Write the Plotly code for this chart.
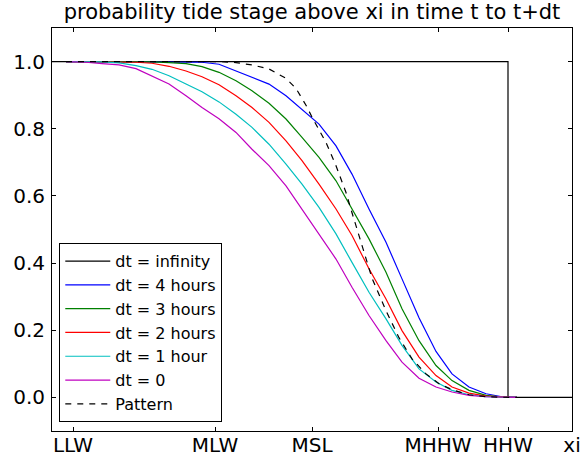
import plotly.graph_objects as go

# Tide datum levels (m relative to mean sea level)
datum_names = ["LLW", "MLW", "MSL", "MHHW", "HHW"]
datum_levels = [-2.39, -0.97, 0.0, 1.26, 1.96]
x_min, x_max = -2.6, 2.6

# Common xi grid for the dt curves
xi = [-2.46, -2.26, -2.10, -1.93, -1.76, -1.60, -1.43, -1.26, -1.10, -0.93,
      -0.76, -0.60, -0.43, -0.26, -0.10, 0.07, 0.24, 0.40, 0.57, 0.74,
      0.90, 1.07, 1.24, 1.40, 1.57, 1.74, 1.90, 2.05]

p_4h = [1.0, 1.0, 1.0, 1.0, 1.0, 1.0, 1.0, 1.0, 0.998, 0.992,
        0.972, 0.955, 0.933, 0.898, 0.858, 0.814, 0.749, 0.665, 0.561, 0.462,
        0.353, 0.237, 0.137, 0.070, 0.031, 0.011, 0.002, 0.0]
p_3h = [1.0, 1.0, 1.0, 1.0, 1.0, 0.999, 0.997, 0.994, 0.985, 0.968,
        0.943, 0.913, 0.876, 0.829, 0.774, 0.715, 0.645, 0.561, 0.472, 0.373,
        0.264, 0.169, 0.095, 0.050, 0.021, 0.006, 0.001, 0.0]
p_2h = [1.0, 1.0, 1.0, 0.999, 0.998, 0.995, 0.986, 0.972, 0.955, 0.931,
        0.898, 0.863, 0.819, 0.764, 0.705, 0.635, 0.561, 0.482, 0.383, 0.293,
        0.199, 0.120, 0.065, 0.031, 0.013, 0.004, 0.001, 0.0]
p_1h = [1.0, 1.0, 0.999, 0.996, 0.988, 0.977, 0.958, 0.933, 0.910, 0.880,
        0.843, 0.804, 0.754, 0.695, 0.635, 0.566, 0.487, 0.402, 0.313, 0.234,
        0.155, 0.085, 0.046, 0.021, 0.008, 0.002, 0.0005, 0.0]
p_0 = [1.0, 0.998, 0.994, 0.990, 0.979, 0.957, 0.933, 0.898, 0.863, 0.830,
       0.789, 0.739, 0.690, 0.630, 0.561, 0.487, 0.412, 0.328, 0.244, 0.169,
       0.105, 0.057, 0.031, 0.016, 0.006, 0.002, 0.0005, 0.0]

# Pattern curve, sampled more densely around MSL
xi_pattern = [-2.46, -0.93, -0.76, -0.60, -0.43, -0.26, -0.16, -0.06, 0.003, 0.07,
              0.14, 0.24, 0.34, 0.40, 0.50, 0.60, 0.74, 0.87, 1.00, 1.14,
              1.27, 1.40, 1.57, 1.74, 1.90, 2.05]
p_pattern = [1.0, 1.0, 0.997, 0.990, 0.978, 0.950, 0.920, 0.870, 0.833, 0.797,
             0.759, 0.690, 0.610, 0.550, 0.450, 0.355, 0.258, 0.178, 0.115, 0.070,
             0.041, 0.023, 0.008, 0.002, 0.0005, 0.0]

# dt = infinity: tide is above xi at some time iff xi is below HHW
hhw = datum_levels[datum_names.index("HHW")]
xi_inf = [x_min, hhw, hhw, x_max]
p_inf = [1.0, 1.0, 0.0, 0.0]

series = [
    ("dt = 4 hours", p_4h, "#0000ff"),
    ("dt = 3 hours", p_3h, "#008000"),
    ("dt = 2 hours", p_2h, "#ff0000"),
    ("dt = 1 hour", p_1h, "#00bfbf"),
    ("dt = 0", p_0, "#bf00bf"),
]

font = "DejaVu Sans"
fig = go.Figure()
fig.add_trace(go.Scatter(x=xi_inf, y=p_inf, mode="lines", name="dt = infinity",
                         line=dict(color="black", width=1.2)))
for name, vals, color in series:
    fig.add_trace(go.Scatter(x=xi, y=vals, mode="lines", name=name,
                             line=dict(color=color, width=1.2)))
fig.add_trace(go.Scatter(x=xi_pattern, y=p_pattern, mode="lines", name="Pattern",
                         line=dict(color="black", width=1.2, dash="6px,6px")))

fig.update_layout(
    width=581, height=459,
    margin=dict(l=52, r=9, t=28, b=28, autoexpand=False),
    paper_bgcolor="white", plot_bgcolor="white",
    font=dict(family=font, size=20, color="black"),
    title=dict(text="probability tide stage above xi in time t to t+dt",
               x=0.537, xanchor="center", y=0.99, yanchor="top",
               font=dict(family=font, size=21, color="black")),
    legend=dict(x=0.014, y=0.022, xanchor="left", yanchor="bottom",
                bgcolor="white", bordercolor="black", borderwidth=1,
                font=dict(family=font, size=16, color="black"),
                tracegroupgap=0, itemwidth=45),
    showlegend=True,
)
fig.update_xaxes(
    range=[x_min, x_max], automargin=False,
    tickvals=datum_levels + [x_max], ticktext=datum_names + ["xi"],
    ticks="inside", ticklen=4, tickcolor="black",
    showline=True, linecolor="black", linewidth=1, mirror="allticks",
    showgrid=False, zeroline=False, ticklabelstandoff=-4,
)
fig.update_yaxes(
    range=[-0.1, 1.1], automargin=False,
    tickvals=[0.0, 0.2, 0.4, 0.6, 0.8, 1.0], tickformat=".1f",
    ticks="inside", ticklen=4, tickcolor="black",
    showline=True, linecolor="black", linewidth=1, mirror="allticks",
    showgrid=False, zeroline=False, ticklabelstandoff=2,
)

fig.write_html("out.html")
